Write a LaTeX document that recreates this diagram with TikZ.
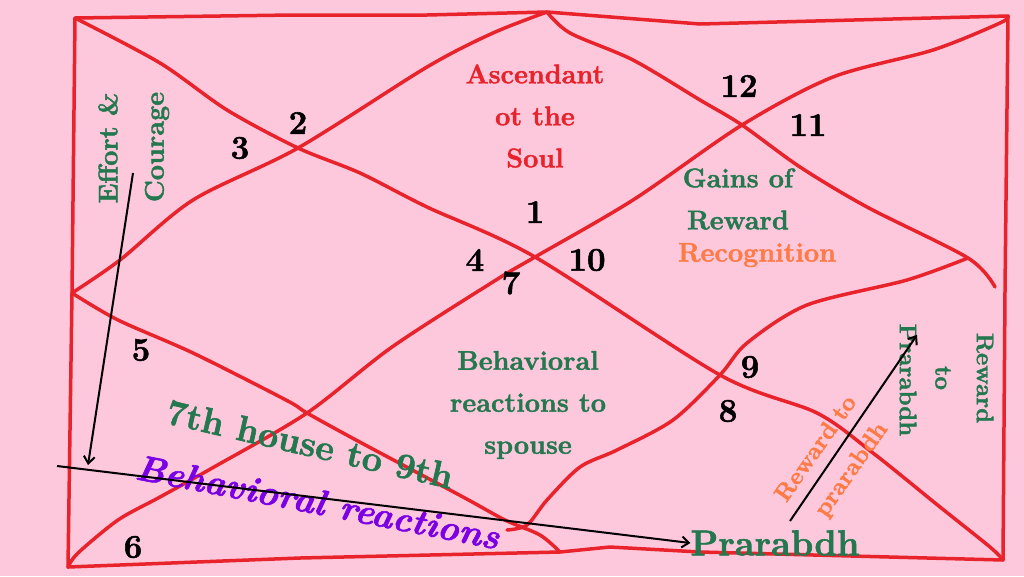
\documentclass[tikz,border=0pt]{standalone}
\usepackage{fontspec}
\setmainfont{Latin Modern Roman}[BoldFeatures = {FakeBold = 1.6}, BoldItalicFeatures = {FakeBold = 1.6}]
\usetikzlibrary{arrows.meta}

\definecolor{bgpink}{HTML}{FDC8DC}
\definecolor{chartred}{HTML}{E8232B}
\definecolor{housegreen}{HTML}{24784F}
\definecolor{rewardorange}{HTML}{FF7A45}
\definecolor{reactpurple}{HTML}{7B00E6}

\begin{document}
\begin{tikzpicture}[x = 1pt, y = -1pt,
    chart/.style = {draw = chartred, line width = 3.5pt, line cap = round, line join = round},
    num/.style = {font = \fontsize{33}{33}\selectfont\bfseries, inner sep = 0pt},
    lbl/.style = {text = housegreen, font = \fontsize{27}{42}\selectfont\bfseries, align = center, inner sep = 0pt},
    sidelbl/.style = {lbl, font = \fontsize{24}{24}\selectfont\bfseries},
    pointer/.style = {draw = black, line width = 2pt, -{Straight Barb[length = 7pt, width = 11pt]}}]
    \useasboundingbox (0,0) rectangle (1024,576);
    \fill[bgpink] (0,0) rectangle (1024,576);

    % corners of the chart
    \coordinate (tl) at (75,18);
    \coordinate (tm) at (547,12);
    \coordinate (tr) at (1008,16);
    \coordinate (rm) at (968,258);
    \coordinate (br) at (1003,560);
    \coordinate (bm) at (560,552);
    \coordinate (bl) at (68,567);
    \coordinate (lm) at (72,293);
    \coordinate (ctr) at (535,257);

    \draw[chart] (tl) -- (293,15) -- (427,15) -- (tm) -- (700,24) -- (tr) -- (1005,290) -- (br)
        -- (700,552) -- (610,547) -- (bm) -- (300,558) -- (bl) -- (lm) -- cycle;
    \draw[chart] plot[smooth, tension = 0.5] coordinates {(tl) (160,63) (227,110) (298,148) (360,173) (427,207) (ctr) (720,375) (817,413) (873,453) (940,507) (990,547) (br)};
    \draw[chart] plot[smooth, tension = 0.5] coordinates {(bl) (78,553) (118,520) (160,497) (214,467) (307,413) (392,347) (496,280) (ctr) (633,200) (742,125) (833,77) (933,50) (1000,23) (tr)};
    \draw[chart] plot[smooth, tension = 0.5] coordinates {(tm) (493,33) (427,67) (298,148) (193,200) (120,260) (lm)};
    \draw[chart] plot[smooth, tension = 0.5] coordinates {(lm) (118,320) (193,353) (286,400) (307,413) (356,440) (463,497) (505,520) (540,535) (bm)};
    \draw[chart] plot[smooth, tension = 0.5] coordinates {(507,530) (527,525) (547,500) (580,467) (617,450) (673,420) (720,375) (747,343) (807,305) (907,280) (rm)};
    \draw[chart] plot[smooth, tension = 0.5] coordinates {(tm) (570,33) (633,60) (700,100) (742,125) (800,167) (867,207) (rm) (995,287)};

    % house numbers
    \node[num] (h1) at (535,212) {1};
    \node[num] (h2) at (298,123) {2};
    \node[num] (h3) at (240,148) {3};
    \node[num] (h4) at (475,260) {4};
    \node[num] (h5) at (141,350) {5};
    \node[num] (h6) at (133,547) {6};
    \node[num] (h7) at (511,283) {7};
    \node[num] (h8) at (728,411) {8};
    \node[num] (h9) at (750,367) {9};
    \node[num] (h10) at (587,260) {10};
    \node[num] (h11) at (808,125) {11};
    \node[num] (h12) at (739,86) {12};

    \node[lbl, text = chartred] (ascendant) at (535,116) {Ascendant\\ot the\\Soul};
    \node[lbl] (gains) at (738,199) {Gains of\\Reward};
    \node[lbl, text = rewardorange] (recog) at (757,255) {Recognition};
    \node[lbl] (spouse) at (528,405) {Behavioral\\reactions to\\spouse};
    \node[lbl, rotate = 90] (effort) at (108,148) {Effort \&};
    \node[lbl, rotate = 90] (courage) at (157,147) {Courage};
    \node[lbl, font = \fontsize{36}{36}\selectfont\bfseries, rotate = -13] (seventh) at (310,444) {7th house to 9th};
    \node[lbl, text = reactpurple, font = \fontsize{36}{36}\selectfont\bfseries\itshape, rotate = -11] (reactions) at (318,502) {Behavioral reactions};
    \node[lbl, font = \fontsize{36}{36}\selectfont\bfseries] (prarabdh) at (775,543) {Prarabdh};
    \node[sidelbl, rotate = -90] (vprarabdh) at (908,380) {Prarabdh};
    \node[sidelbl, rotate = -90] (vto) at (943,378) {to};
    \node[sidelbl, rotate = -90] (vreward) at (985,378) {Reward};
    \node[sidelbl, text = rewardorange, rotate = 55] (rewardto) at (815,448) {Reward to};
    \node[sidelbl, text = rewardorange, rotate = 55] (rprarabdh) at (852,470) {prarabdh};

    \coordinate (a0) at (133,173);
    \coordinate (a1) at (88,465);
    \coordinate (l0) at (57,466);
    \coordinate (r0) at (790,521);
    \coordinate (r1) at (917,335);
    \draw[pointer] (a0) -- (a1);
    \draw[pointer] (l0) -- (prarabdh.west);
    \draw[pointer] (r0) -- (r1);
\end{tikzpicture}
\end{document}
